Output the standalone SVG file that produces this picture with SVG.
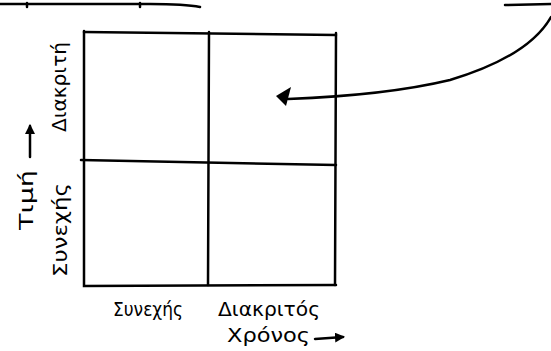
<svg xmlns="http://www.w3.org/2000/svg" width="551" height="351" viewBox="0 0 551 351">
<defs>
<style>
.ln{stroke:#000;stroke-width:2.5;fill:none;stroke-linecap:round}
.tx{font-family:"DejaVu Sans","Liberation Sans",sans-serif;font-size:19px;fill:#000}
</style>
<marker id="ah" viewBox="0 0 10 10" refX="8" refY="5" markerWidth="6" markerHeight="6" markerUnits="userSpaceOnUse" orient="auto"><path d="M0,0 L10,5 L0,10 Z" fill="#000"/></marker>
<marker id="ah2" viewBox="0 0 10 10" refX="8" refY="5" markerWidth="10" markerHeight="10" markerUnits="userSpaceOnUse" orient="auto"><path d="M0,0 L10,5 L0,10 Z" fill="#000"/></marker>
</defs>
<rect width="551" height="351" fill="#fff"/>
<g id="top-fragments">
<path class="ln" d="M0,4 L150,4 Q185,4 200,7"/>
<path class="ln" d="M27,3 L27,7 M140,3 L140,7"/>
<path class="ln" d="M505,5 L551,4"/>
</g>
<g id="grid">
<path class="ln" d="M84,32 L336,35"/>
<path class="ln" d="M84,31 L84,286 L336,285"/>
<path class="ln" d="M209,32 L208,285"/>
<path class="ln" d="M336,33 L335,285"/>
<path class="ln" d="M81,160 L336,165"/>
</g>
<g id="connectors">
<path class="ln" d="M551,17 C535,45 500,65 450,80 C400,92 340,97 288,99"/>
<polygon points="276,96 291,87 286,106" fill="#000"/>
</g>
<g id="labels">
<text class="tx" transform="translate(66,132) rotate(-90)" textLength="90" lengthAdjust="spacingAndGlyphs">Διακριτή</text>
<text class="tx" transform="translate(67,277) rotate(-90)" textLength="94" lengthAdjust="spacingAndGlyphs">Συνεχής</text>
<text class="tx" transform="translate(33,230) rotate(-90)" textLength="60" lengthAdjust="spacingAndGlyphs">Τιμή</text>
<path class="ln" d="M30,157 L30,126" marker-end="url(#ah2)"/>
<text class="tx" x="113" y="316" textLength="70" lengthAdjust="spacingAndGlyphs">Συνεχής</text>
<text class="tx" x="218" y="316" textLength="102" lengthAdjust="spacingAndGlyphs">Διακριτός</text>
<text class="tx" x="227" y="342" textLength="83" lengthAdjust="spacingAndGlyphs">Χρόνος</text>
<path class="ln" d="M315,339 L343,337" marker-end="url(#ah2)"/>
</g>
</svg>
